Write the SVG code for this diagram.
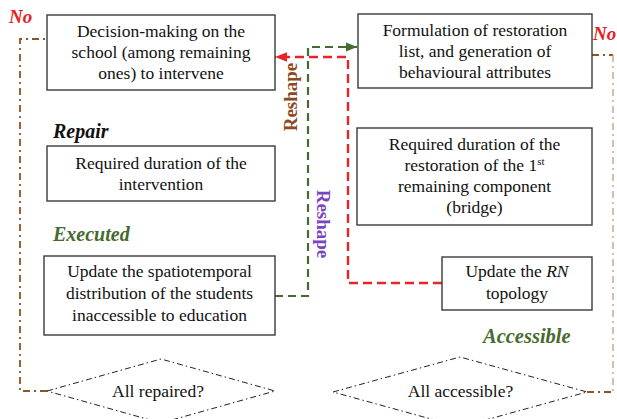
<svg xmlns="http://www.w3.org/2000/svg" width="617" height="419" viewBox="0 0 617 419">
<defs>
<style>
.box{fill:#fff;stroke:#3a3a3a;stroke-width:1.4}
.dia{fill:#fff;stroke:#222;stroke-width:1;stroke-dasharray:6 3 1.5 3}
.t{font-family:"Liberation Serif","Times New Roman",serif;font-size:17.5px;fill:#111;text-anchor:middle}
.lab{font-family:"Liberation Serif","Times New Roman",serif;font-weight:bold;font-style:italic}
.green{stroke:#466b2e;stroke-width:2.2;fill:none;stroke-dasharray:8 5}
.red{stroke:#e8242a;stroke-width:2.4;fill:none;stroke-dasharray:9 5}
.brown{stroke:#8f5424;stroke-width:1.8;fill:none;stroke-dasharray:7 4 2 4}
.brownlt{stroke:#c9a27e;stroke-width:1.4;fill:none;stroke-dasharray:7 4 2 4}
</style>
<marker id="ag" viewBox="0 0 10 10" refX="10" refY="5" markerWidth="5" markerHeight="5" orient="auto" markerUnits="strokeWidth"><path d="M0,1 L10,5 L0,9 z" fill="#466b2e"/></marker>
<marker id="ar" viewBox="0 0 10 10" refX="10" refY="5" markerWidth="5" markerHeight="5" orient="auto" markerUnits="strokeWidth"><path d="M0,1 L10,5 L0,9 z" fill="#e8242a"/></marker>
</defs>
<rect width="617" height="419" fill="#fff"/>

<g id="connectors">
<path class="green" d="M275,296 H308 V47 H357" marker-end="url(#ag)"/>
<path class="red" d="M442,283 H348 V57 H275" marker-end="url(#ar)"/>
<path class="brown" d="M47,391 H20 V39 H47"/>
<path class="brown" d="M587,392 H613 M592,55 H613"/>
<path class="brownlt" d="M613,55 V392"/>
</g>

<g id="n1"><rect class="box" x="47" y="15" width="228" height="75"/>
<text class="t" x="161" y="37">Decision-making on the</text>
<text class="t" x="161" y="58">school (among remaining</text>
<text class="t" x="161" y="79">ones) to intervene</text></g>

<g id="n2"><rect class="box" x="47" y="146" width="228" height="55"/>
<text class="t" x="161" y="169">Required duration of the</text>
<text class="t" x="161" y="190">intervention</text></g>

<g id="n3"><rect class="box" x="44" y="256" width="231" height="79"/>
<text class="t" x="159.5" y="277">Update the spatiotemporal</text>
<text class="t" x="159.5" y="299">distribution of the students</text>
<text class="t" x="159.5" y="321">inaccessible to education</text></g>

<g id="n4"><polygon class="dia" points="47,391 161,359 275,391 161,423"/>
<text class="t" x="158" y="397">All repaired?</text></g>

<g id="n5"><rect class="box" x="358" y="14" width="234" height="74"/>
<text class="t" x="475" y="36">Formulation of restoration</text>
<text class="t" x="475" y="57">list, and generation of</text>
<text class="t" x="475" y="78">behavioural attributes</text></g>

<g id="n6"><rect class="box" x="357" y="128" width="235" height="97"/>
<text class="t" x="474.5" y="150">Required duration of the</text>
<text class="t" x="474.5" y="171">restoration of the 1<tspan font-size="11" dy="-6">st</tspan></text>
<text class="t" x="474.5" y="192">remaining component</text>
<text class="t" x="474.5" y="213">(bridge)</text></g>

<g id="n7"><rect class="box" x="442" y="257" width="150" height="53"/>
<text class="t" x="517" y="277">Update the <tspan font-style="italic">RN</tspan></text>
<text class="t" x="517" y="299">topology</text></g>

<g id="n8"><polygon class="dia" points="333,392 460,357 587,392 460,427"/>
<text class="t" x="460.5" y="397">All accessible?</text></g>

<g id="labels">
<text class="lab" x="9" y="23" font-size="19" fill="#e62020">No</text>
<text class="lab" x="593" y="40" font-size="19" fill="#e62020">No</text>
<text class="lab" x="53" y="138" font-size="20" fill="#111">Repair</text>
<text class="lab" x="53" y="241" font-size="20" fill="#466b2e">Executed</text>
<text class="lab" x="483" y="343" font-size="20.5" fill="#466b2e">Accessible</text>
<text font-family="Liberation Serif,serif" font-weight="bold" font-size="19" fill="#8b4a20" text-anchor="middle" transform="translate(297,97) rotate(-90)">Reshape</text>
<text font-family="Liberation Serif,serif" font-weight="bold" font-size="19" fill="#7a45c0" text-anchor="middle" transform="translate(317,224) rotate(90)">Reshape</text>
</g>
</svg>
